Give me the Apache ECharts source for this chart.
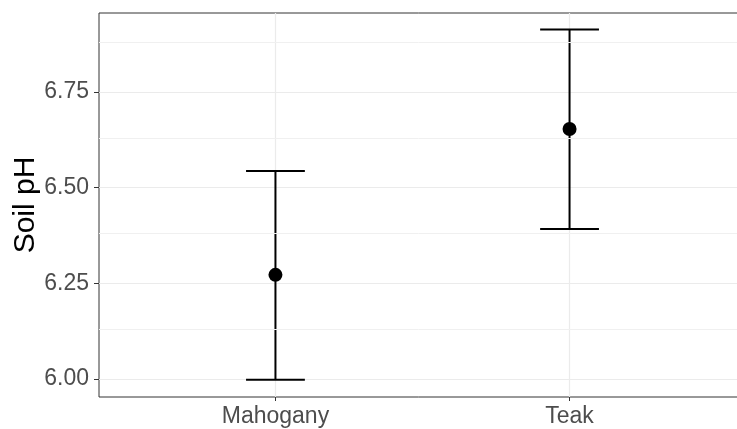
<!DOCTYPE html>
<html>
<head>
<meta charset="utf-8">
<script src="https://cdn.jsdelivr.net/npm/echarts@6/dist/echarts.min.js"></script>
<style>
html,body{margin:0;padding:0;background:#fff;}
#chart{width:737px;height:429px;}
</style>
</head>
<body>
<div id="chart"></div>
<script>
// Data
const categories = ['Mahogany', 'Teak'];
const means = [6.272, 6.653];
const lower = [5.998, 6.392];
const upper = [6.543, 6.913];
const yTicks = [6.00, 6.25, 6.50, 6.75];
const yMinor = [6.125, 6.375, 6.625, 6.875];

const xPos = categories.map((c, i) => i + 1);
const capHalf = 0.1;
const FONT = '"Liberation Sans", Arial, sans-serif';

const chart = echarts.init(document.getElementById('chart'), null, {renderer: 'canvas'});

const option = {
  animation: false,
  backgroundColor: '#ffffff',
  grid: {
    left: 99, top: 13, width: 647, height: 384,
    outerBoundsMode: 'none', containLabel: false,
    show: true, borderColor: '#333333', borderWidth: 1, backgroundColor: 'transparent'
  },
  xAxis: {
    type: 'value', min: 0.4, max: 2.6,
    axisLine: {show: false},
    axisTick: {show: true, customValues: xPos, length: 4, lineStyle: {color: '#333333', width: 1}},
    axisLabel: {
      show: true, customValues: xPos, margin: 8,
      color: '#4d4d4d', fontSize: 23, fontFamily: FONT,
      formatter: v => categories[Math.round(v) - 1] || ''
    },
    splitLine: {show: true, lineStyle: {color: '#ebebeb', width: 1.2}}
  },
  yAxis: {
    type: 'value', min: 5.953, max: 6.956,
    name: 'Soil pH', nameLocation: 'middle', nameGap: 58, nameMoveOverlap: false,
    nameTextStyle: {color: '#000000', fontSize: 30, fontFamily: FONT},
    axisLine: {show: false},
    axisTick: {show: true, customValues: yTicks, length: 5, lineStyle: {color: '#333333', width: 1}},
    axisLabel: {
      show: true, customValues: yTicks, margin: 10,
      color: '#4d4d4d', fontSize: 23, fontFamily: FONT,
      formatter: v => v.toFixed(2)
    },
    splitLine: {show: true, lineStyle: {color: '#ebebeb', width: 1.2}}
  },
  series: [
    {
      type: 'line', data: [], z: 1, silent: true,
      markLine: {
        silent: true, symbol: ['none', 'none'], animation: false,
        label: {show: false},
        lineStyle: {color: '#f0f0f0', width: 1, type: 'solid'},
        emphasis: {disabled: true},
        data: yMinor.map(v => ({yAxis: v}))
      }
    },
    {
      type: 'custom', z: 3, silent: true,
      data: xPos.map((x, i) => [x, lower[i], upper[i]]),
      renderItem: function (params, api) {
        const x = api.value(0), lo = api.value(1), hi = api.value(2);
        const pLo = api.coord([x, lo]);
        const pHi = api.coord([x, hi]);
        const cL1 = api.coord([x - capHalf, lo]);
        const cR1 = api.coord([x + capHalf, lo]);
        const cL2 = api.coord([x - capHalf, hi]);
        const cR2 = api.coord([x + capHalf, hi]);
        const style = {stroke: '#000000', lineWidth: 2, fill: null};
        return {
          type: 'group',
          children: [
            {type: 'line', shape: {x1: pLo[0], y1: pLo[1], x2: pHi[0], y2: pHi[1]}, style: style},
            {type: 'line', shape: {x1: cL1[0], y1: cL1[1], x2: cR1[0], y2: cR1[1]}, style: style},
            {type: 'line', shape: {x1: cL2[0], y1: cL2[1], x2: cR2[0], y2: cR2[1]}, style: style}
          ]
        };
      }
    },
    {
      type: 'scatter', z: 4, silent: true,
      symbol: 'circle', symbolSize: 14,
      itemStyle: {color: '#000000', opacity: 1},
      data: xPos.map((x, i) => [x, means[i]])
    }
  ]
};
chart.setOption(option);
</script>
</body>
</html>
